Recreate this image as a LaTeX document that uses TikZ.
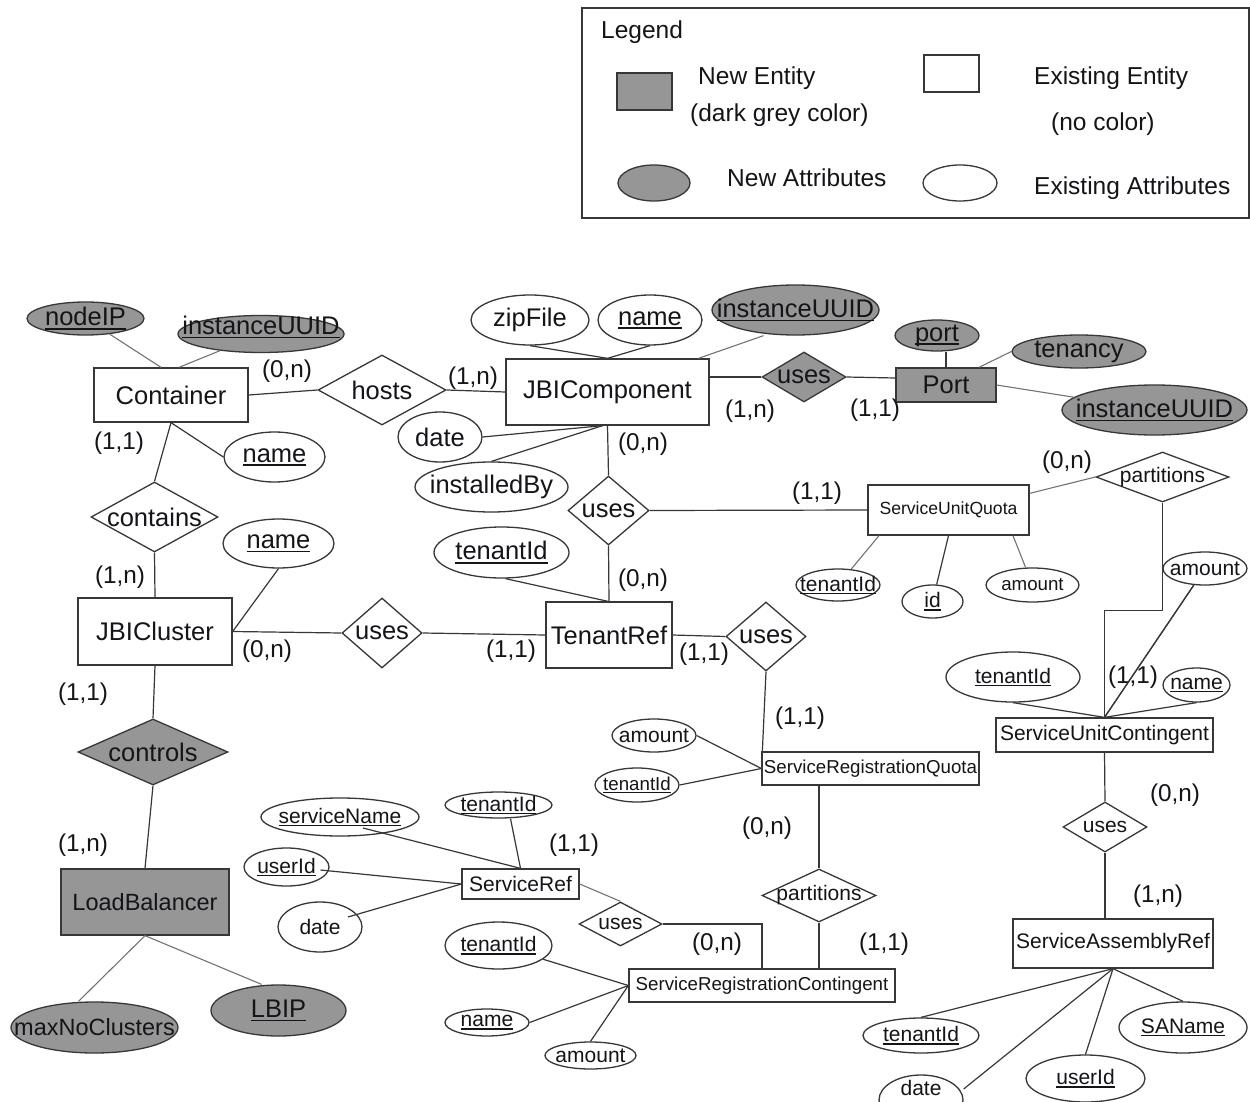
\documentclass[tikz,border=0pt]{standalone}
\usepackage{fontspec}
\setmainfont{Liberation Sans}
\usetikzlibrary{shapes.geometric}

\definecolor{ink}{RGB}{20,20,25}
\definecolor{edge}{RGB}{55,55,55}
\definecolor{softedge}{RGB}{115,115,115}
\definecolor{newfill}{RGB}{150,150,150}

% font sizes (1pt = 1 drawing unit)
\newcommand\ersbig{\fontsize{25.5}{28}\selectfont}
\newcommand\ersmid{\fontsize{23.5}{26}\selectfont}
\newcommand\erssm{\fontsize{21}{24}\selectfont}
\newcommand\ersxs{\fontsize{18.7}{21}\selectfont}
\newcommand\erscard{\fontsize{24.3}{27}\selectfont}
\newcommand\ersleg{\fontsize{24.5}{27}\selectfont}

% key attribute: text with a thick underline
\newcommand\erul[1]{\leavevmode\setbox0=\hbox{#1}\rlap{\raisebox{-0.14em}{\rule{\wd0}{0.055em}}}\box0}

\tikzset{
  shapeline/.style={draw=edge, line width=1.3pt},
  entbox/.style={shapeline, rectangle, inner sep=0pt, fill=white},
  relbox/.style={shapeline, diamond, inner sep=0pt, fill=white},
  attrbox/.style={shapeline, ellipse, inner sep=0pt, fill=white},
  isnew/.style={fill=newfill},
  txt/.style={inner sep=0pt, text=ink},
  card/.style={txt, font=\erscard},
  legtxt/.style={txt, font=\ersleg, anchor=west},
  conn/.style={draw=edge, line width=1.2pt},
  softconn/.style={draw=softedge, line width=1.1pt},
}

% [options]{name}{x,y}{width}{height}{font}{text}
\newcommand\entitynode[7][]{%
  \node[entbox,minimum width=#4pt,minimum height=#5pt,#1] (#2) at (#3) {};
  \node[txt,font={#6}] (#2-t) at (#2) {#7};}
\newcommand\relnode[7][]{%
  \node[relbox,minimum width=#4pt,minimum height=#5pt,#1] (#2) at (#3) {};
  \node[txt,font={#6}] (#2-t) at (#2) {#7};}
\newcommand\attrnode[7][]{%
  \node[attrbox,minimum width=#4pt,minimum height=#5pt,#1] (#2) at (#3) {};
  \node[txt,font={#6}] (#2-t) at (#2) {#7};}

\begin{document}
\begin{tikzpicture}[x=1pt,y=-1pt]
\fill[white] (0,0) rectangle (1250,1102);
\useasboundingbox (0,0) rectangle (1250,1102);

% ---------- legend ----------
\draw[draw=edge, line width=1.8pt] (582,8) rectangle (1249,218);
\node[legtxt] (lg-title) at (601,32) {Legend};
\node[entbox, isnew, minimum width=55pt, minimum height=37pt] (lg-newent) at (644.5,91.5) {};
\node[legtxt] (lg-newent-t) at (698,78) {New Entity};
\node[legtxt] (lg-newent-c) at (690,115) {(dark grey color)};
\node[entbox, minimum width=55pt, minimum height=37pt] (lg-oldent) at (951.5,73.5) {};
\node[legtxt] (lg-oldent-t) at (1034,78) {Existing Entity};
\node[legtxt] (lg-oldent-c) at (1051,124) {(no color)};
\node[attrbox, isnew, minimum width=72pt, minimum height=36pt] (lg-newattr) at (654,183) {};
\node[legtxt] (lg-newattr-t) at (727,178) {New Attributes};
\node[attrbox, minimum width=74pt, minimum height=36pt] (lg-oldattr) at (960,183) {};
\node[legtxt] (lg-oldattr-t) at (1034,188) {Existing Attributes};

% ---------- entities ----------
\entitynode{cont}{171,395}{154}{54}{\ersbig}{Container}
\entitynode{jbic}{607.5,392}{203}{66}{\ersbig}{JBIComponent}
\entitynode[isnew]{port}{946,385}{100}{34}{\ersbig}{Port}
\entitynode{suq}{948.5,510}{161}{50}{\fontsize{17.6}{20}\selectfont}{ServiceUnitQuota}
\entitynode{jbicl}{155,631.5}{154}{67}{\ersbig}{JBICluster}
\entitynode{tref}{609,635}{126}{66}{\ersbig}{TenantRef}
\entitynode{srq}{870.5,768.5}{217}{33}{\ersxs}{ServiceRegistrationQuota}
\entitynode{suc}{1104.5,735}{217}{34}{\erssm}{ServiceUnitContingent}
\entitynode{sar}{1113,943.5}{200}{49}{\erssm}{ServiceAssemblyRef}
\entitynode[isnew]{lb}{145,902}{168}{66}{\ersmid}{LoadBalancer}
\entitynode{sref}{520.5,884}{117}{30}{\erssm}{ServiceRef}
\entitynode{src}{762,985.5}{266}{33}{\ersxs}{ServiceRegistrationContingent}

% ---------- relationships ----------
\relnode{hosts}{382,390}{128}{70}{\ersbig}{hosts}
\relnode[isnew]{usesP}{804,377}{84}{50}{\ersbig}{uses}
\relnode{contains}{154.5,517}{127}{70}{\ersbig}{contains}
\relnode{usesC}{608.5,510.5}{81}{69}{\ersbig}{uses}
\relnode{partT}{1162.5,477}{133}{50}{\erssm}{partitions}
\relnode{usesJ}{382,633}{80}{70}{\ersbig}{uses}
\relnode{usesT}{766,636.5}{80}{69}{\ersbig}{uses}
\relnode[isnew]{controls}{153,752}{150}{66}{\ersbig}{controls}
\relnode{usesS}{1105,827}{84}{50}{\erssm}{uses}
\relnode{partB}{819,895.5}{114}{53}{\erssm}{partitions}
\relnode{usesR}{620.5,924}{83}{44}{\erssm}{uses}

% ---------- attributes ----------
\attrnode[isnew]{nodeIP}{85.5,318.5}{117}{33}{\ersbig}{\erul{nodeIP}}
\node[attrbox, isnew, minimum width=166pt, minimum height=37pt] (uuidC) at (261,334) {};
\node[txt, font=\ersbig] (uuidC-t) at (261,327) {\erul{instanceUUID}};
\attrnode{nameC}{274.5,457}{101}{50}{\ersbig}{\erul{name}}
\attrnode{nameJ}{278.5,543.5}{111}{49}{\ersbig}{\erul{name}}
\attrnode{zipFile}{530,320}{118}{50}{\ersbig}{zipFile}
\attrnode{nameJC}{650,320}{104}{50}{\ersbig}{\erul{name}}
\attrnode[isnew]{uuidJ}{795.5,310}{167}{50}{\ersbig}{\erul{instanceUUID}}
\attrnode{date1}{440,437}{84}{50}{\ersbig}{date}
\attrnode{instBy}{491.5,487}{153}{50}{\ersbig}{installedBy}
\attrnode[isnew]{portA}{937,335.5}{84}{31}{\ersbig}{\erul{port}}
\attrnode[isnew]{tenancy}{1079,351.5}{134}{33}{\ersbig}{tenancy}
\attrnode[isnew]{uuidP}{1154.5,410}{185}{50}{\ersbig}{\erul{instanceUUID}}
\attrnode{tidQ}{838,585}{84}{32}{\erssm}{\erul{tenantId}}
\attrnode{idA}{932.5,601.5}{61}{33}{\erssm}{\erul{id}}
\attrnode{amtQ}{1032.5,585}{93}{34}{\ersxs}{amount}
\attrnode{amtT}{1205,568.5}{84}{33}{\erssm}{amount}
\attrnode{tidT}{501.5,552.5}{135}{51}{\ersbig}{\erul{tenantId}}
\attrnode{tidU}{1013,677}{134}{50}{\erssm}{\erul{tenantId}}
\attrnode{nameU}{1196.5,685}{67}{34}{\erssm}{\erul{name}}
\attrnode{amtR}{654,735.5}{84}{33}{\erssm}{amount}
\attrnode{tidR}{637,785}{84}{34}{\ersxs}{\erul{tenantId}}
\attrnode{svcName}{340,817}{158}{38}{\erssm}{\erul{serviceName}}
\attrnode{tidS}{498.5,805}{107}{26}{\erssm}{\erul{tenantId}}
\attrnode{userS}{286.5,867}{85}{38}{\erssm}{\erul{userId}}
\attrnode{dateS}{320,927}{84}{50}{\erssm}{date}
\attrnode{tidC}{498.5,945.5}{107}{47}{\erssm}{\erul{tenantId}}
\attrnode{nameR}{487,1022.5}{84}{27}{\erssm}{\erul{name}}
\attrnode{amtC}{590.5,1055.5}{91}{27}{\erssm}{amount}
\attrnode[isnew]{maxNo}{94.5,1027.5}{167}{51}{\ersmid}{maxNoClusters}
\attrnode[isnew]{lbip}{278.5,1010.5}{135}{51}{\ersbig}{\erul{LBIP}}
\attrnode{tidA}{921,1035.5}{116}{35}{\erssm}{\erul{tenantId}}
\node[attrbox, minimum width=84pt, minimum height=50pt] (dateA) at (921,1100) {};
\node[txt, font=\erssm] (dateA-t) at (921,1088) {date};
\attrnode{userA}{1085.5,1078.5}{119}{47}{\erssm}{\erul{userId}}
\attrnode{saName}{1183,1027.5}{128}{51}{\erssm}{\erul{SAName}}

% ---------- connectors ----------
\draw[softconn] (nodeIP) -- ([xshift=-10pt]cont.north);
\draw[softconn] (uuidC) -- ([xshift=8pt]cont.north);
\draw[conn] (cont.east) -- (hosts.west);
\draw[conn] (hosts.east) -- (jbic.west);
\draw[conn] (cont.south) -- (contains.north);
\draw[conn] (cont.south) -- (nameC.west);
\draw[conn] (contains.south) -- (jbicl.north);
\draw[conn] (jbicl.east) -- (nameJ.south);
\draw[conn] (jbicl.east) -- (usesJ.west);
\draw[conn] (usesJ.east) -- (tref.west);
\draw[conn] (jbicl.south) -- (controls.north);
\draw[conn] (controls.south) -- (lb.north);
\draw[softconn] (lb.south) -- ([xshift=-16pt]maxNo.north);
\draw[softconn] (lb.south) -- ([xshift=-17pt]lbip.north);

\draw[conn] (zipFile.south) -- (jbic.north);
\draw[conn] (nameJC.south) -- (jbic.north);
\draw[softconn] ([xshift=-32pt]uuidJ.south) -- ([xshift=91pt]jbic.north);
\draw[conn] ([yshift=15pt]jbic.east) -- (usesP.west);
\draw[conn] (usesP.east) -- ([yshift=7pt]port.west);
\draw[conn] (port.north) -- (port.north |- portA.south);
\draw[softconn] ([xshift=33pt]port.north) -- (tenancy.west);
\draw[softconn] (port.east) -- (uuidP);
\draw[conn] (date1.east) -- ([xshift=-5pt]jbic.south);
\draw[conn] (instBy.north) -- ([xshift=-5pt]jbic.south);
\draw[conn] (jbic.south) -- (usesC.north);
\draw[conn] (usesC.east) -- (suq.west);
\draw[conn] (usesC.south) -- (tref.north);
\draw[conn] ([xshift=4pt]tidT.south) -- ([xshift=-1pt]tref.north);

\draw[softconn] ([yshift=-9pt]suq.north east) -- (partT.west);
\draw[conn] (partT.south) -- ++(0,108) -| (suc.north);
\draw[conn] (amtT) -- (suc.north);
\draw[conn] (tidU.south) -- (suc.north);
\draw[conn] (nameU.south) -- (suc.north);
\draw[softconn] ([xshift=-69.5pt]suq.south) -- (tidQ);
\draw[conn] (suq.south) -- (idA);
\draw[softconn] ([xshift=64.5pt]suq.south) -- (amtQ);

\draw[conn] (tref.east) -- (usesT.west);
\draw[conn] (usesT.south) -- ([xshift=1pt]srq.north west);
\draw[conn] (amtR.east) -- (srq.west);
\draw[conn] (tidR.east) -- (srq.west);
\draw[conn] (partB.north |- srq.south) -- (partB.north);
\draw[conn] (partB.south) -- (partB.south |- src.north);
\draw[conn] (suc.south) -- (usesS.north);
\draw[conn] (usesS.south) -- (usesS.south |- sar.north);

\draw[conn] ([shift={(23,11)}]svcName.center) -- (sref.north);
\draw[conn] ([xshift=12pt]tidS.south) -- (sref.north);
\draw[conn] ([shift={(34,3)}]userS.center) -- (sref.west);
\draw[conn] ([shift={(28,-10)}]dateS.center) -- (sref.west);
\draw[softconn] (sref.east) -- (usesR.north);
\draw[conn] (usesR.east) -| (src.north);
\draw[conn] (tidC) -- (src.west);
\draw[conn] (nameR.east) -- (src.west);
\draw[conn] (amtC.north) -- (src.west);

\draw[conn] (sar.south) -- (tidA.north);
\draw[conn] (sar.south) -- ([yshift=11pt]dateA.east);
\draw[conn] (sar.south) -- (userA.north);
\draw[conn] (sar.south) -- (saName.north);

% ---------- cardinalities ----------
\node[card] (k01) at (287,371) {(0,n)};
\node[card] (k02) at (473,378) {(1,n)};
\node[card] (k03) at (119,443) {(1,1)};
\node[card] (k04) at (750,411) {(1,n)};
\node[card] (k05) at (875,410) {(1,1)};
\node[card] (k06) at (643,444) {(0,n)};
\node[card] (k07) at (817,493) {(1,1)};
\node[card] (k08) at (1067,462) {(0,n)};
\node[card] (k09) at (120,577) {(1,n)};
\node[card] (k10) at (643,580) {(0,n)};
\node[card] (k11) at (267,651) {(0,n)};
\node[card] (k12) at (511,651) {(1,1)};
\node[card] (k13) at (704,654) {(1,1)};
\node[card] (k14) at (83,694) {(1,1)};
\node[card] (k15) at (800,718) {(1,1)};
\node[card] (k16) at (1133,677) {(1,1)};
\node[card] (k17) at (1175,795) {(0,n)};
\node[card] (k18) at (83,845) {(1,n)};
\node[card] (k19) at (574,845) {(1,1)};
\node[card] (k20) at (767,828) {(0,n)};
\node[card] (k21) at (1158,896) {(1,n)};
\node[card] (k22) at (717,944) {(0,n)};
\node[card] (k23) at (884,944) {(1,1)};

% the diagonal from amount crosses the (1,1) label
\draw[conn] (amtT) -- (suc.north);
\end{tikzpicture}
\end{document}
